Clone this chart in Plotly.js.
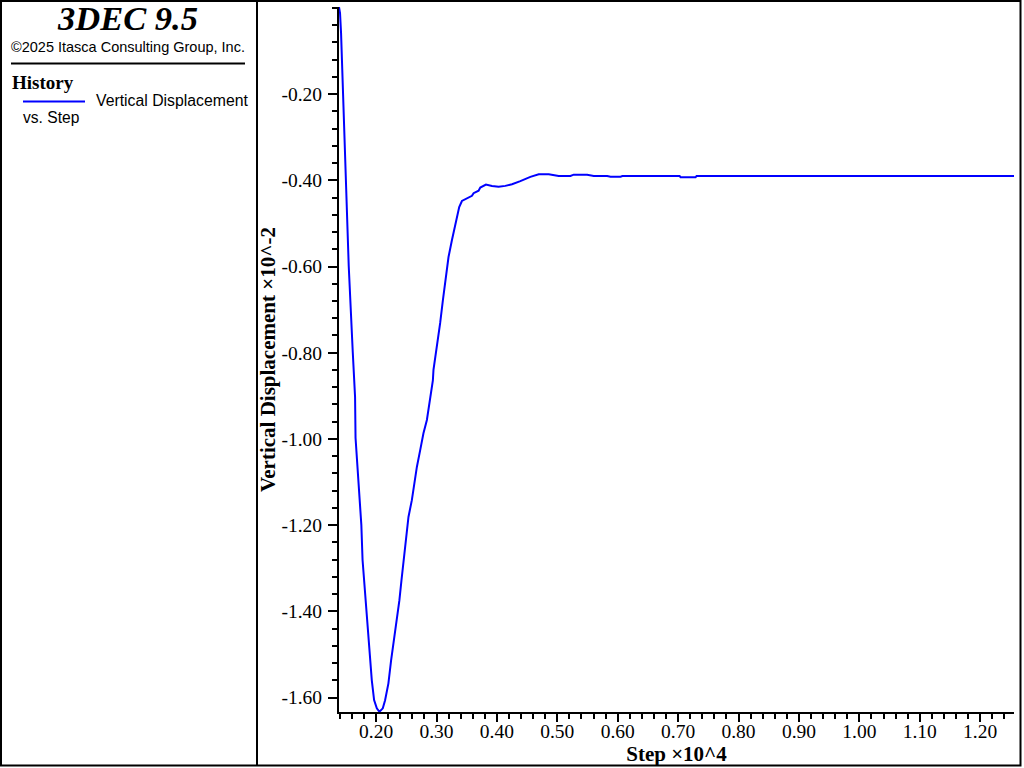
<!DOCTYPE html>
<html>
<head>
<meta charset="utf-8">
<script src="https://cdn.plot.ly/plotly-3.0.1.min.js"></script>
<style>
  html, body { margin: 0; padding: 0; background: #fff; }
  #chart { width: 1024px; height: 768px; }
</style>
</head>
<body>
<div id="chart"></div>
<script>
// ---- Data (Step in units of 10^4, Vertical Displacement in units of 10^-2) ----
const steps = [
  0.1386, 0.1403, 0.1420, 0.1436, 0.1448, 0.1464, 0.1481, 0.1491, 0.1547, 0.1614,
  0.1652, 0.1660, 0.1710, 0.1756, 0.1776, 0.1801, 0.1823, 0.1846, 0.1872, 0.1900,
  0.1929, 0.1967, 0.2012, 0.2055, 0.2111, 0.2149, 0.2204, 0.2249, 0.2287, 0.2343,
  0.2386, 0.2420, 0.2456, 0.2464, 0.2498, 0.2536, 0.2592, 0.2635, 0.2675, 0.2730,
  0.2784, 0.2841, 0.2896, 0.2940, 0.2950, 0.3007, 0.3061, 0.3106, 0.3144, 0.3199,
  0.3255, 0.3298, 0.3338, 0.3365, 0.3376, 0.3421, 0.3504, 0.3587, 0.3614, 0.3697,
  0.3725, 0.3819, 0.3919, 0.4028, 0.4139, 0.4250, 0.4388, 0.4554, 0.4692, 0.4858,
  0.5023, 0.5217, 0.5272, 0.5494, 0.5604, 0.5826, 0.5881, 0.6046, 0.6075, 0.7025,
  0.7040, 0.7289, 0.7305, 1.2560
];
const vertDisp = [
  0.002, -0.012, -0.058, -0.126, -0.200, -0.260, -0.323, -0.400, -0.599, -0.799,
  -0.903, -0.998, -1.096, -1.200, -1.281, -1.328, -1.374, -1.420, -1.467, -1.513,
  -1.560, -1.606, -1.625, -1.633, -1.625, -1.606, -1.567, -1.513, -1.474, -1.420,
  -1.374, -1.328, -1.281, -1.265, -1.219, -1.181, -1.142, -1.096, -1.065, -1.026,
  -0.987, -0.956, -0.910, -0.864, -0.840, -0.787, -0.731, -0.678, -0.632, -0.578,
  -0.539, -0.509, -0.485, -0.469, -0.462, -0.448, -0.441, -0.436, -0.430, -0.424,
  -0.417, -0.410, -0.413, -0.415, -0.413, -0.409, -0.402, -0.392, -0.386, -0.386,
  -0.390, -0.390, -0.387, -0.387, -0.390, -0.390, -0.392, -0.392, -0.390, -0.390,
  -0.393, -0.393, -0.390, -0.390
];
const xTickVals = [0.2, 0.3, 0.4, 0.5, 0.6, 0.7, 0.8, 0.9, 1.0, 1.1, 1.2];
const xTickLabels = ["0.20", "0.30", "0.40", "0.50", "0.60", "0.70", "0.80", "0.90", "1.00", "1.10", "1.20"];
const yTickVals = [-0.2, -0.4, -0.6, -0.8, -1.0, -1.2, -1.4, -1.6];
const yTickLabels = ["-0.20", "-0.40", "-0.60", "-0.80", "-1.00", "-1.20", "-1.40", "-1.60"];
const xRange = [0.1386, 1.256];
const yRange = [-1.6335, 0.002];

const titleMain = "3DEC 9.5";
const copyrightText = "\u00A92025 Itasca Consulting Group, Inc.";
const historyLabel = "History";
const seriesName = "Vertical Displacement";
const seriesSub = "vs. Step";
const xTitle = "Step \u00D710^4";
const yTitle = "Vertical Displacement \u00D710^-2";

// ---- Layout geometry ----
const W = 1024, H = 768;
const M = { l: 339, r: 10, t: 7, b: 56 };
const PW = W - M.l - M.r, PH = H - M.t - M.b;
const px = x => (x - M.l) / PW;
const py = y => (H - M.b - y) / PH;

const serif = "Liberation Serif";
const sans = "Liberation Sans";

const trace = {
  x: steps, y: vertDisp, type: "scatter", mode: "lines",
  name: seriesName + " " + seriesSub,
  line: { color: "#0000ff", width: 2 },
  showlegend: false, hoverinfo: "x+y"
};

const shapes = [
  { type: "rect", xref: "paper", yref: "paper", x0: px(1), x1: px(1020.5), y0: py(1), y1: py(765.5),
    line: { color: "#000", width: 2 }, fillcolor: "rgba(0,0,0,0)", layer: "above" },
  { type: "line", xref: "paper", yref: "paper", x0: px(257), x1: px(257), y0: py(1), y1: py(765.5),
    line: { color: "#000", width: 2 } },
  { type: "line", xref: "paper", yref: "paper", x0: px(11), x1: px(245), y0: py(63.5), y1: py(63.5),
    line: { color: "#000", width: 2 } },
  { type: "line", xref: "paper", yref: "paper", x0: px(23), x1: px(85), y0: py(101.5), y1: py(101.5),
    line: { color: "#0000ff", width: 2 } }
];

const ann = (text, x, y, xanchor, size, family, extra) => Object.assign({
  text, xref: "paper", yref: "paper", x: px(x), y: py(y), xanchor, yanchor: "middle",
  showarrow: false, font: { size, family, color: "#000" }
}, extra || {});

const annotations = [
  ann("<b><i>" + titleMain + "</i></b>", 127.5, 18, "center", 34.5, serif),
  ann(copyrightText, 9, 46.5, "left", 14.5, sans),
  ann("<b>" + historyLabel + "</b>", 10, 82.5, "left", 19, serif),
  ann(seriesName, 94, 100.5, "left", 15.8, sans),
  ann(seriesSub, 21, 117.5, "left", 15.6, sans)
];

const axisCommon = {
  showgrid: false, zeroline: false, showline: true, linecolor: "#000", linewidth: 2,
  ticks: "outside", tickcolor: "#000", tickwidth: 2, tickmode: "array",
  tickfont: { family: serif, size: 19.5, color: "#000" }
};

const layout = {
  width: W, height: H, margin: M, paper_bgcolor: "#fff", plot_bgcolor: "#fff",
  showlegend: false,
  xaxis: Object.assign({}, axisCommon, {
    range: xRange, tickvals: xTickVals, ticktext: xTickLabels, ticklen: 8, ticklabelstandoff: -7,
    minor: { tickmode: "linear", tick0: 0, dtick: 0.02, ticks: "outside", ticklen: 5, tickwidth: 2, tickcolor: "#000" },
    title: { text: xTitle, font: { family: serif, size: 21, color: "#000", weight: "bold" }, standoff: 4 }
  }),
  yaxis: Object.assign({}, axisCommon, {
    range: yRange, tickvals: yTickVals, ticktext: yTickLabels, ticklen: 9, ticklabelstandoff: 2,
    minor: { tickmode: "linear", tick0: 0, dtick: 0.04, ticks: "outside", ticklen: 5, tickwidth: 2, tickcolor: "#000" },
    title: { text: yTitle, font: { family: serif, size: 21, color: "#000", weight: "bold" }, standoff: 0 }
  }),
  shapes, annotations
};

Plotly.newPlot("chart", [trace], layout, { displayModeBar: false, staticPlot: true });
</script>
</body>
</html>
